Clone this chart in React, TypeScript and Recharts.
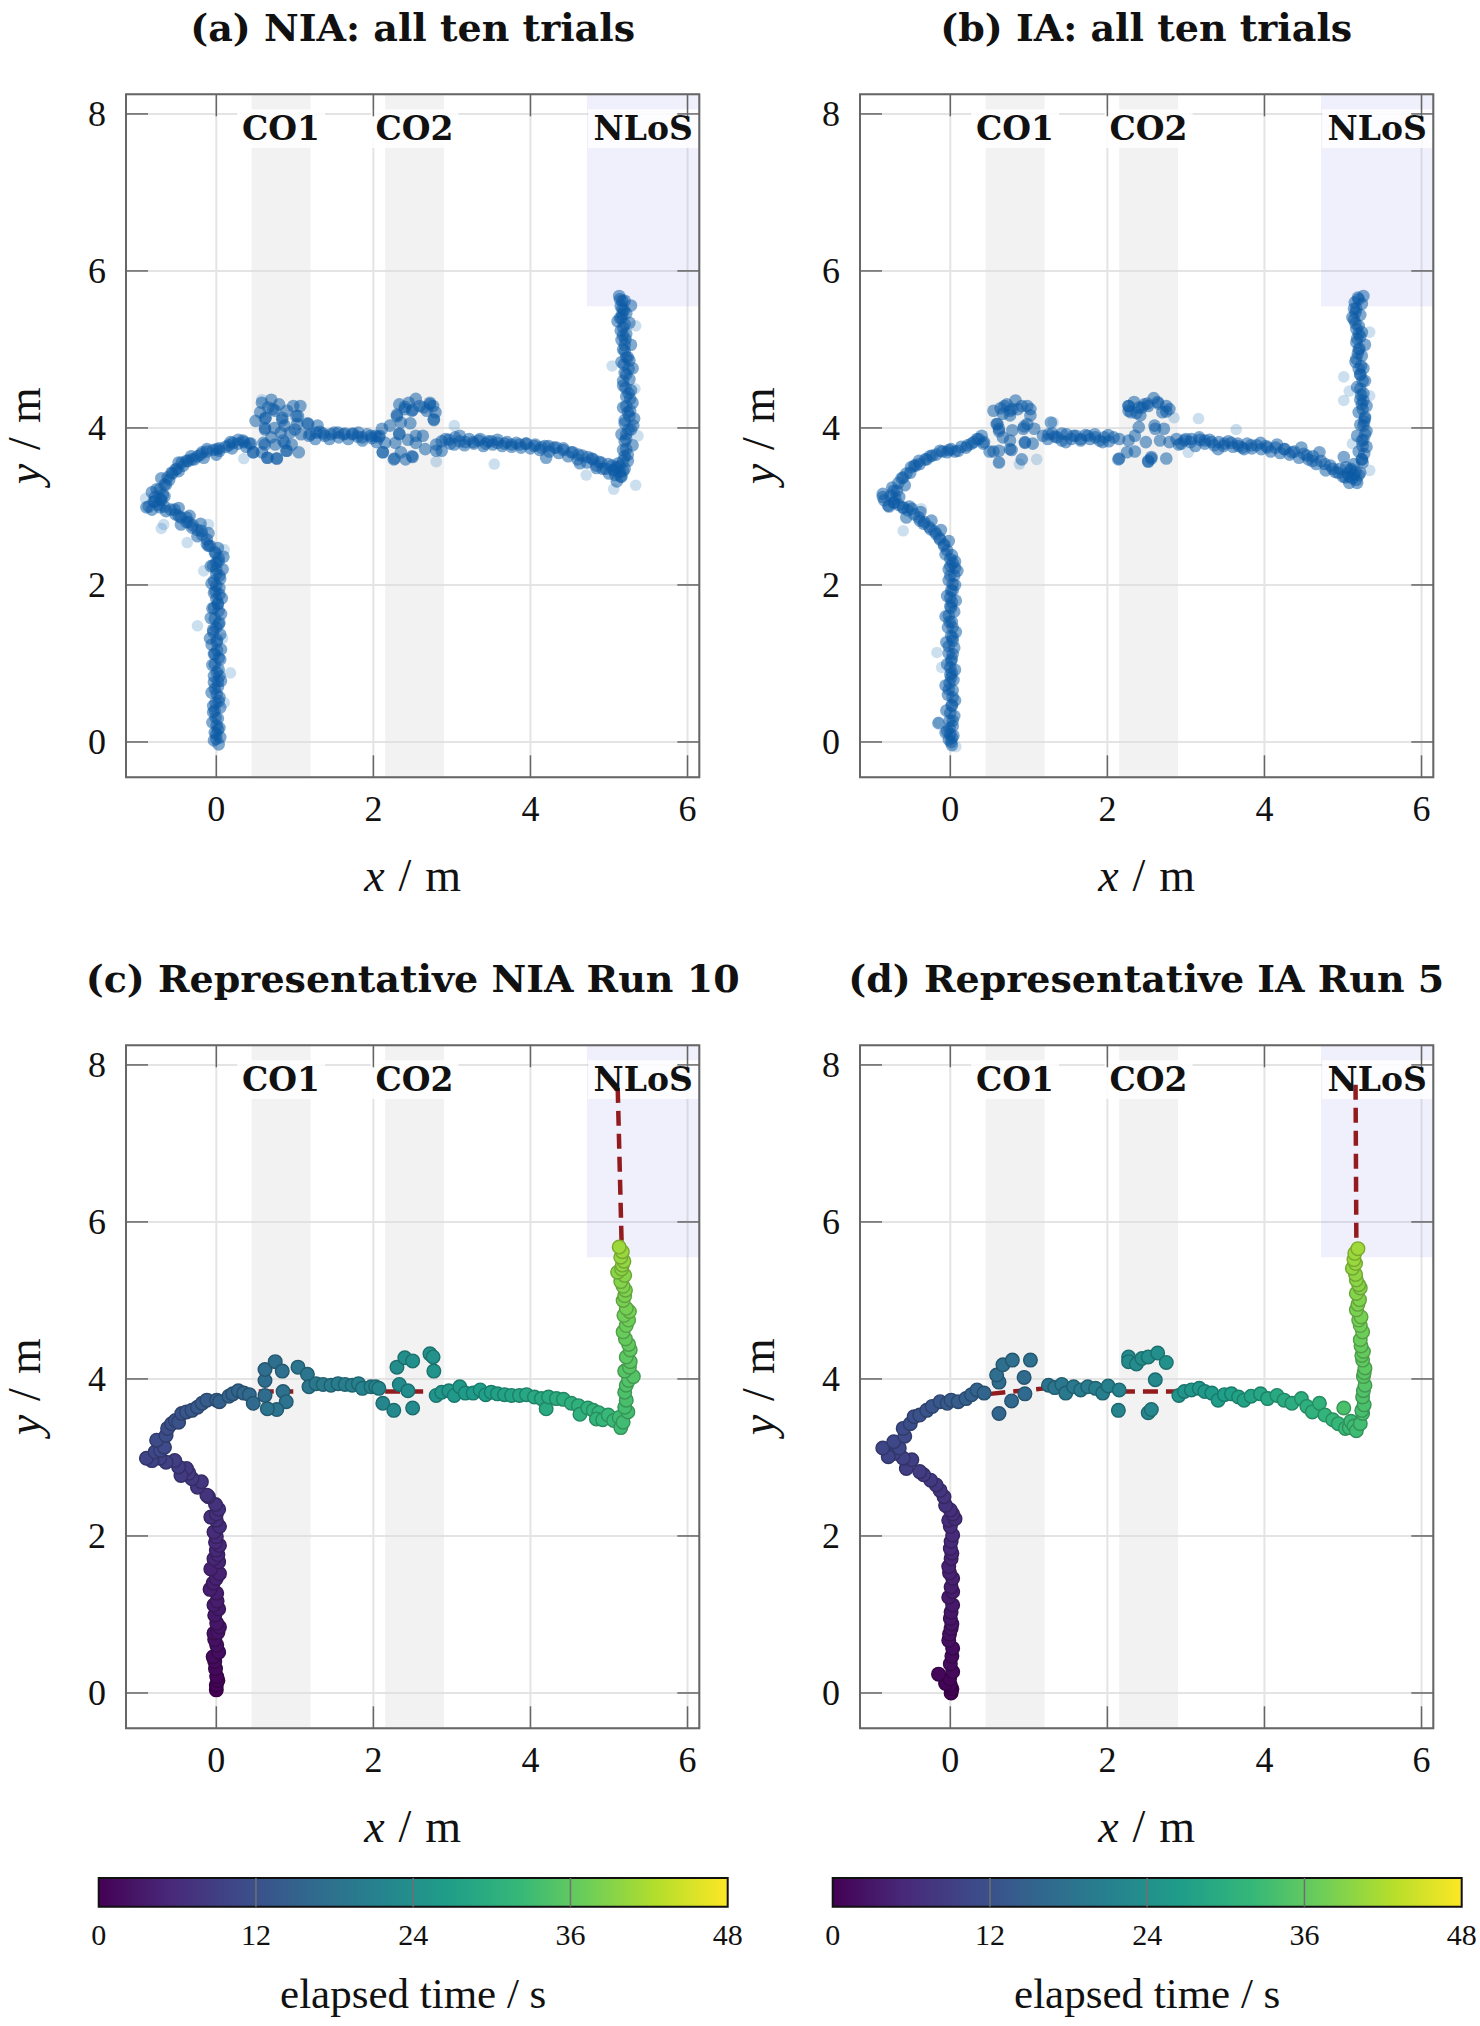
import React from "react";
import {
  ScatterChart,
  Scatter,
  XAxis,
  YAxis,
  CartesianGrid,
  ReferenceArea,
  ReferenceLine,
} from "recharts";

type P2 = [number, number];
type P3 = [number, number, number];

// ---- axes ----
const xTicks = [0, 2, 4, 6];
const yTicks = [0, 2, 4, 6, 8];
const xRange: [number, number] = [-1.15, 6.15];
const yRange: [number, number] = [-0.45, 8.25];
const timeTicks = [0, 12, 24, 36, 48];

// ---- zones (m) ----
const obstacles = [
  { name: "CO1", x1: 0.45, x2: 1.2 },
  { name: "CO2", x1: 2.15, x2: 2.9 },
];
const nlos = { name: "NLoS", x1: 4.72, y1: 5.55 };

// ---- representative runs: [x, y, elapsed s] ----
const run10: P3[] = [
  [0, 0.04, 0], [0, 0.1, 0.3], [0.02, 0.16, 0.5], [0.005, 0.21, 0.7], [-0.01, 0.31, 1.1],
  [-0.02, 0.4, 1.3], [-0.04, 0.46, 1.5], [0.03, 0.52, 1.7], [0.005, 0.61, 2], [-0.02, 0.68, 2.2],
  [-0.03, 0.76, 2.4], [0.02, 0.77, 2.6], [0.04, 0.84, 2.8], [0.005, 0.89, 2.9], [-0.02, 0.99, 3.2],
  [0.03, 1.07, 3.5], [-0.03, 1.12, 3.7], [0.01, 1.17, 3.9], [0.005, 1.27, 4.0], [-0.08, 1.32, 4.1],
  [-0.04, 1.4, 4.3], [0, 1.46, 4.4], [0.04, 1.52, 4.6], [-0.07, 1.58, 4.7], [0.03, 1.67, 5.0],
  [-0.03, 1.71, 5.1], [0.02, 1.76, 5.3], [0, 1.82, 5.4], [0.04, 1.88, 5.6], [-0.01, 1.92, 5.7],
  [0, 1.99, 5.9], [-0.03, 2.05, 6.0], [0.04, 2.12, 6.2], [0, 2.2, 6.4], [-0.07, 2.24, 6.5],
  [0, 2.28, 6.6], [0.03, 2.34, 6.7], [-0.01, 2.4, 6.9],
  [-0.1, 2.5, 7.2], [-0.12, 2.52, 7.3], [-0.24, 2.62, 7.6], [-0.19, 2.69, 7.7], [-0.31, 2.73, 8.0],
  [-0.35, 2.8, 8.2], [-0.38, 2.86, 8.3], [-0.45, 2.77, 8.4], [-0.48, 2.88, 8.6], [-0.53, 2.96, 8.9],
  [-0.64, 2.94, 9.2], [-0.72, 2.99, 9.5], [-0.82, 2.96, 9.8], [-0.89, 2.99, 10.1],
  [-0.78, 3.07, 10.4], [-0.71, 3.09, 10.6], [-0.66, 3.13, 10.8], [-0.76, 3.22, 11.0], [-0.64, 3.28, 11.3],
  [-0.62, 3.37, 11.6], [-0.57, 3.43, 11.9], [-0.52, 3.47, 12.1], [-0.48, 3.45, 12.2], [-0.44, 3.56, 12.5],
  [-0.38, 3.58, 12.8], [-0.31, 3.6, 13.1], [-0.24, 3.64, 13.4], [-0.18, 3.69, 13.7], [-0.12, 3.73, 14.0],
  [0.005, 3.73, 14.4], [0.04, 3.71, 14.6], [0.16, 3.78, 15.0], [0.21, 3.81, 15.2], [0.28, 3.85, 15.5],
  [0.35, 3.82, 15.8], [0.42, 3.8, 16.1], [0.47, 3.69, 16.4],
  [0.62, 3.79, 16.8], [0.62, 3.98, 17.0], [0.62, 4.12, 17.2], [0.75, 4.22, 17.4], [0.84, 4.1, 17.6],
  [0.85, 3.84, 17.8], [0.89, 3.71, 18.0], [0.77, 3.61, 18.2], [0.65, 3.62, 18.4], [1.04, 4.15, 18.6],
  [1.16, 4.06, 18.8], [1.18, 3.9, 19.0],
  [1.27, 3.94, 19.3], [1.36, 3.93, 19.6], [1.46, 3.92, 19.9], [1.55, 3.94, 20.2], [1.64, 3.93, 20.5],
  [1.73, 3.92, 20.8], [1.81, 3.94, 21.1], [1.86, 3.88, 21.3], [1.97, 3.9, 21.6], [2.03, 3.9, 21.8],
  [2.07, 3.88, 22.0],
  [2.12, 3.69, 22.3], [2.26, 3.6, 22.6], [2.5, 3.63, 22.9], [2.33, 3.93, 23.1], [2.44, 3.85, 23.3],
  [2.3, 4.15, 23.5], [2.4, 4.27, 23.7], [2.5, 4.23, 23.9], [2.72, 4.32, 24.2], [2.76, 4.28, 24.4],
  [2.77, 4.1, 24.6],
  [2.8, 3.79, 24.9], [2.87, 3.83, 25.1], [2.96, 3.85, 25.4], [3.03, 3.79, 25.6], [3.1, 3.9, 25.8],
  [3.17, 3.82, 26.0], [3.27, 3.82, 26.3], [3.36, 3.86, 26.6], [3.43, 3.8, 26.8], [3.5, 3.83, 27.0],
  [3.58, 3.81, 27.3], [3.67, 3.8, 27.6], [3.76, 3.79, 27.9], [3.86, 3.79, 28.2], [3.95, 3.8, 28.5],
  [4.05, 3.77, 28.8], [4.14, 3.75, 29.1], [4.2, 3.62, 29.3], [4.23, 3.77, 29.4], [4.33, 3.75, 29.7],
  [4.42, 3.74, 30.0], [4.52, 3.69, 30.3], [4.61, 3.66, 30.6], [4.63, 3.55, 30.7], [4.73, 3.63, 31.0],
  [4.8, 3.6, 31.2], [4.87, 3.57, 31.5], [4.84, 3.49, 31.6], [4.92, 3.48, 31.9], [4.99, 3.54, 32.2],
  [5.06, 3.47, 32.5], [5.13, 3.51, 32.8], [5.15, 3.38, 33.0], [5.18, 3.45, 33.2],
  [5.24, 3.58, 33.5], [5.2, 3.64, 33.6], [5.22, 3.73, 33.9], [5.2, 3.83, 34.2], [5.22, 3.92, 34.5],
  [5.25, 3.98, 34.7], [5.31, 4.03, 34.9], [5.2, 4.1, 35.1], [5.26, 4.15, 35.3], [5.27, 4.22, 35.5],
  [5.22, 4.28, 35.7], [5.27, 4.37, 36.0], [5.25, 4.44, 36.2], [5.21, 4.51, 36.5], [5.18, 4.6, 36.8],
  [5.22, 4.68, 37.0], [5.25, 4.75, 37.3], [5.19, 4.81, 37.5], [5.26, 4.86, 37.7], [5.22, 4.9, 37.8],
  [5.18, 5.0, 38.1], [5.2, 5.06, 38.3], [5.21, 5.13, 38.5], [5.18, 5.18, 38.7], [5.15, 5.24, 38.9],
  [5.2, 5.32, 39.2], [5.11, 5.36, 39.4], [5.16, 5.4, 39.6], [5.17, 5.45, 39.8], [5.19, 5.5, 40.0],
  [5.15, 5.55, 40.2], [5.17, 5.62, 40.5], [5.13, 5.68, 40.9],
];

const run5: P3[] = [
  [0.01, 0.0, 0], [0.02, 0.05, 0.2], [0, 0.1, 0.3], [-0.06, 0.12, 0.5], [-0.01, 0.18, 0.6],
  [-0.15, 0.24, 0.8], [0.03, 0.27, 0.9], [0, 0.37, 1.2], [0.02, 0.47, 1.4], [0.03, 0.57, 1.7],
  [-0.02, 0.67, 2.0], [-0.01, 0.75, 2.2], [0.01, 0.82, 2.4], [0.02, 0.88, 2.6], [0, 0.95, 2.8],
  [0.01, 1.03, 3.0], [0.03, 1.12, 3.3], [-0.02, 1.22, 3.6], [0.03, 1.29, 3.8], [0.01, 1.35, 3.9],
  [0.03, 1.46, 4.2], [-0.01, 1.53, 4.4], [-0.02, 1.61, 4.6], [0.01, 1.71, 4.9], [0.02, 1.78, 5.1],
  [0, 1.84, 5.3], [0.01, 1.93, 5.5], [0.03, 2.01, 5.7], [0, 2.12, 6.0], [-0.02, 2.2, 6.2],
  [0.06, 2.22, 6.3], [0.03, 2.28, 6.5], [0, 2.33, 6.6],
  [-0.06, 2.39, 6.9], [-0.08, 2.5, 7.2], [-0.13, 2.58, 7.5], [-0.18, 2.65, 7.8], [-0.25, 2.71, 8.1],
  [-0.34, 2.78, 8.4], [-0.39, 2.82, 8.6], [-0.56, 2.86, 8.9], [-0.49, 2.97, 9.0], [-0.6, 2.99, 9.3],
  [-0.72, 3.05, 9.7], [-0.79, 3.01, 9.9], [-0.86, 3.12, 10.2],
  [-0.65, 3.12, 10.4], [-0.72, 3.2, 10.5], [-0.58, 3.27, 10.8], [-0.6, 3.37, 11.1], [-0.51, 3.43, 11.5],
  [-0.46, 3.52, 11.8], [-0.39, 3.54, 12.1], [-0.3, 3.6, 12.5], [-0.23, 3.65, 12.8], [-0.13, 3.71, 13.2],
  [-0.04, 3.69, 13.5], [0.01, 3.73, 13.8], [0.1, 3.71, 14.1], [0.2, 3.75, 14.5], [0.27, 3.8, 14.8],
  [0.34, 3.86, 15.1], [0.43, 3.82, 15.4],
  [0.62, 3.56, 15.8], [0.78, 3.72, 16.1], [0.95, 3.81, 16.4], [0.94, 4.02, 16.7], [0.62, 3.96, 17.0],
  [0.59, 4.05, 17.2], [0.67, 4.18, 17.4], [0.79, 4.24, 17.6], [1.02, 4.24, 17.9],
  [1.25, 3.92, 18.4], [1.33, 3.89, 18.7], [1.42, 3.93, 19.0], [1.47, 3.82, 19.2], [1.57, 3.9, 19.5],
  [1.66, 3.86, 19.8], [1.75, 3.9, 20.1], [1.85, 3.88, 20.4], [1.94, 3.82, 20.7], [2.01, 3.91, 21.0],
  [2.15, 3.86, 21.4],
  [2.14, 3.6, 21.7], [2.52, 3.57, 22.0], [2.56, 3.61, 22.2], [2.61, 3.99, 22.5], [2.27, 4.28, 22.8],
  [2.27, 4.22, 23.0], [2.37, 4.19, 23.2], [2.44, 4.26, 23.4], [2.52, 4.28, 23.6], [2.64, 4.33, 23.9],
  [2.75, 4.21, 24.2],
  [2.91, 3.79, 24.6], [2.98, 3.84, 24.9], [3.07, 3.86, 25.2], [3.17, 3.88, 25.5], [3.24, 3.84, 25.8],
  [3.33, 3.82, 26.1], [3.41, 3.73, 26.4], [3.49, 3.8, 26.7], [3.58, 3.81, 27.0], [3.67, 3.77, 27.3],
  [3.74, 3.73, 27.6], [3.83, 3.78, 27.9], [3.95, 3.81, 28.3], [4.04, 3.75, 28.6], [4.16, 3.79, 29.0],
  [4.25, 3.73, 29.3], [4.35, 3.69, 29.7], [4.47, 3.75, 30.1], [4.54, 3.65, 30.4], [4.61, 3.58, 30.7],
  [4.7, 3.69, 31.0], [4.77, 3.54, 31.3], [4.87, 3.48, 31.7], [4.94, 3.43, 32.0], [5.03, 3.37, 32.4],
  [5.08, 3.38, 32.6], [5.1, 3.46, 32.7], [5.14, 3.4, 32.9], [5.17, 3.34, 33.0], [5.22, 3.43, 33.3],
  [5.25, 3.56, 33.6], [5.24, 3.6, 33.8], [5.01, 3.63, 34.0],
  [5.27, 3.67, 34.0], [5.25, 3.77, 34.4], [5.26, 3.85, 34.6], [5.28, 3.92, 34.9], [5.26, 4.03, 35.3],
  [5.27, 4.08, 35.5], [5.28, 4.14, 35.7], [5.25, 4.24, 36.0], [5.24, 4.3, 36.2], [5.26, 4.35, 36.4],
  [5.23, 4.42, 36.6], [5.22, 4.5, 36.9], [5.25, 4.6, 37.2], [5.22, 4.68, 37.5], [5.2, 4.75, 37.7],
  [5.23, 4.79, 37.9], [5.17, 4.88, 38.2], [5.19, 4.95, 38.4], [5.21, 5.01, 38.6], [5.17, 5.09, 38.9],
  [5.22, 5.16, 39.2], [5.2, 5.2, 39.3], [5.17, 5.26, 39.5], [5.16, 5.33, 39.8], [5.12, 5.41, 40.0],
  [5.16, 5.47, 40.3], [5.14, 5.52, 40.5], [5.15, 5.6, 40.7], [5.19, 5.66, 41.0],
];

// gaps in the localisation (drawn dashed): [from, to]
const gapsRun10: [P2, P2][] = [
  [[0.54, 3.84], [0.98, 3.84]],
  [[2.15, 3.84], [2.7, 3.84]],
  [[5.16, 5.76], [5.11, 7.75]],
];
const gapsRun5: [P2, P2][] = [
  [[0.51, 3.81], [1.2, 3.88]],
  [[2.16, 3.84], [2.91, 3.84]],
  [[5.17, 5.8], [5.16, 7.75]],
];

// ---- the other nine trials (a) and (b) ----
const otherTrialsNIA: P2[] = [
  [0.03, -0.03], [-0.03, 0.02], [0.05, 0.06], [-0.02, 0.12], [0.04, 0.18], [-0.05, 0.25], [0.02, 0.3],
  [-0.04, 0.38], [0.05, 0.44], [-0.01, 0.5], [0.04, 0.57], [-0.06, 0.63], [0.02, 0.7], [0.06, 0.78],
  [-0.03, 0.84], [0.03, 0.92], [-0.05, 0.98], [0.05, 1.05], [-0.02, 1.12], [0.06, 1.18], [-0.06, 1.24],
  [0.01, 1.3], [0.05, 1.37], [-0.04, 1.43], [0.03, 1.5], [-0.02, 1.57], [0.06, 1.63], [-0.05, 1.7],
  [0.02, 1.76], [0.07, 1.83], [-0.03, 1.9], [0.04, 1.96], [-0.06, 2.02], [0.05, 2.08], [0.0, 2.14],
  [0.08, 2.2], [-0.04, 2.25], [0.03, 2.3], [0.09, 2.36],
  [-0.02, 2.42], [-0.08, 2.5], [0.02, 2.47], [-0.12, 2.58], [-0.18, 2.64], [-0.1, 2.66], [-0.24, 2.7],
  [-0.3, 2.76], [-0.2, 2.78], [-0.38, 2.8], [-0.45, 2.86], [-0.34, 2.88], [-0.52, 2.9], [-0.58, 2.96],
  [-0.48, 2.98], [-0.66, 3.0], [-0.74, 3.02], [-0.8, 3.06], [-0.7, 3.08], [-0.86, 3.0], [-0.78, 3.12],
  [-0.68, 3.15], [-0.82, 3.18], [-0.72, 3.22], [-0.66, 3.28], [-0.6, 3.34], [-0.7, 3.36], [-0.56, 3.42],
  [-0.5, 3.48], [-0.42, 3.52], [-0.48, 3.56], [-0.36, 3.58], [-0.28, 3.6], [-0.32, 3.64], [-0.2, 3.66],
  [-0.12, 3.7], [-0.16, 3.62], [-0.04, 3.72], [0.04, 3.74], [0.0, 3.66], [0.12, 3.76], [0.2, 3.74],
  [0.18, 3.82], [0.28, 3.8], [0.34, 3.84], [0.38, 3.76], [0.44, 3.8],
  [0.58, 4.32], [0.7, 4.36], [0.8, 4.3], [0.98, 4.28], [1.07, 4.28], [0.56, 4.2], [0.63, 4.13],
  [0.84, 4.13], [1.02, 4.15], [0.5, 4.09], [0.62, 4.0], [0.74, 4.0], [0.87, 4.03], [1.03, 4.05],
  [1.17, 4.05], [1.29, 4.03], [0.7, 3.88], [0.82, 3.94], [0.94, 3.94], [1.08, 3.92], [0.6, 3.81],
  [0.75, 3.79], [0.87, 3.81], [0.96, 3.79], [0.58, 3.69], [0.65, 3.62], [0.77, 3.61], [0.9, 3.71],
  [1.05, 3.69], [0.47, 3.69], [0.72, 4.24], [0.9, 4.22], [0.66, 4.26], [1.0, 3.98],
  [1.2, 3.92], [1.26, 3.86], [1.32, 3.95], [1.38, 3.9], [1.44, 3.86], [1.5, 3.94], [1.56, 3.88],
  [1.62, 3.92], [1.68, 3.86], [1.74, 3.93], [1.8, 3.89], [1.86, 3.84], [1.92, 3.92], [1.98, 3.87],
  [2.04, 3.82], [2.08, 3.9],
  [2.33, 4.3], [2.4, 4.24], [2.54, 4.37], [2.59, 4.28], [2.72, 4.3], [2.79, 4.2], [2.3, 4.17],
  [2.49, 4.22], [2.68, 4.22], [2.35, 4.07], [2.47, 4.06], [2.77, 4.11], [2.21, 4.03], [2.11, 3.99],
  [2.33, 3.92], [2.54, 3.9], [2.63, 3.9], [2.28, 3.81], [2.54, 3.81], [2.66, 3.73], [2.35, 3.69],
  [2.49, 3.64], [2.27, 3.61], [2.41, 3.6], [2.8, 3.71], [2.87, 3.71], [2.15, 3.81], [2.12, 3.69],
  [2.45, 4.32], [2.64, 4.26],
  [2.92, 3.86], [2.98, 3.8], [3.04, 3.88], [3.1, 3.83], [3.16, 3.78], [3.22, 3.86], [3.28, 3.8],
  [3.34, 3.84], [3.4, 3.77], [3.46, 3.83], [3.52, 3.79], [3.58, 3.85], [3.64, 3.77], [3.7, 3.82],
  [3.76, 3.76], [3.82, 3.81], [3.88, 3.75], [3.94, 3.8], [4.0, 3.74], [4.06, 3.79], [4.12, 3.72],
  [4.18, 3.77], [4.24, 3.7], [4.3, 3.75], [4.36, 3.68], [4.42, 3.72], [4.48, 3.64], [4.54, 3.69],
  [4.6, 3.6], [4.66, 3.65], [4.72, 3.56], [4.78, 3.61], [4.84, 3.52], [4.9, 3.56], [4.96, 3.48],
  [5.0, 3.42],
  [5.06, 3.46], [5.1, 3.5], [5.08, 3.4], [5.14, 3.44], [5.12, 3.55], [5.04, 3.52], [5.16, 3.38],
  [5.2, 3.48], [5.1, 3.32], [5.18, 3.58],
  [5.24, 3.66], [5.18, 3.72], [5.3, 3.78], [5.22, 3.86], [5.16, 3.92], [5.28, 3.98], [5.2, 4.06],
  [5.32, 4.12], [5.24, 4.2], [5.18, 4.26], [5.3, 4.32], [5.22, 4.4], [5.28, 4.48], [5.18, 4.54],
  [5.26, 4.62], [5.2, 4.7], [5.3, 4.76], [5.16, 4.84], [5.24, 4.9], [5.2, 4.98], [5.28, 5.06],
  [5.16, 5.12], [5.22, 5.2], [5.18, 5.28], [5.26, 5.34], [5.14, 5.4], [5.22, 5.46], [5.17, 5.52],
  [5.28, 5.56], [5.2, 5.62], [5.14, 5.64],
];

const strayNIA: P2[] = [
  [-0.24, 1.48], [0.18, 0.88], [0.1, 2.45], [-0.16, 2.18], [-0.67, 2.77], [-0.7, 2.72], [-0.37, 2.54],
  [-0.1, 2.77], [0.08, 1.32], [0.1, 0.5], [3.54, 3.54], [4.71, 3.4], [5.06, 3.22], [5.34, 3.27],
  [5.04, 4.79], [5.37, 3.9], [0.35, 3.61], [0.58, 4.36], [2.8, 3.57], [3.03, 4.03], [-0.9, 3.1],
  [5.34, 5.3], [5.33, 4.5],
];

const otherTrialsIA: P2[] = [
  [0.02, -0.04], [-0.02, 0.03], [0.04, 0.08], [-0.04, 0.14], [0.03, 0.2], [-0.01, 0.27], [0.05, 0.33],
  [-0.05, 0.4], [0.02, 0.46], [0.06, 0.53], [-0.03, 0.6], [0.03, 0.66], [-0.06, 0.72], [0.04, 0.79],
  [0.0, 0.86], [0.06, 0.92], [-0.04, 0.99], [0.02, 1.06], [-0.02, 1.13], [0.05, 1.2], [-0.05, 1.27],
  [0.03, 1.33], [0.07, 1.4], [-0.03, 1.46], [0.02, 1.53], [-0.06, 1.6], [0.05, 1.66], [0.0, 1.73],
  [0.07, 1.8], [-0.04, 1.86], [0.03, 1.93], [0.06, 2.0], [-0.02, 2.06], [0.05, 2.12], [0.09, 2.18],
  [0.0, 2.24], [0.06, 2.3], [0.02, 2.38],
  [-0.04, 2.44], [-0.08, 2.52], [-0.02, 2.56], [-0.14, 2.6], [-0.2, 2.68], [-0.12, 2.7], [-0.27, 2.74],
  [-0.33, 2.8], [-0.24, 2.82], [-0.4, 2.86], [-0.46, 2.9], [-0.38, 2.93], [-0.54, 2.95], [-0.6, 2.98],
  [-0.52, 3.0], [-0.66, 3.02], [-0.72, 3.05], [-0.78, 3.0], [-0.7, 3.1], [-0.84, 3.08], [-0.76, 3.14],
  [-0.86, 3.16], [-0.68, 3.2], [-0.74, 3.24], [-0.66, 3.3], [-0.62, 3.36], [-0.56, 3.42], [-0.5, 3.5],
  [-0.44, 3.52], [-0.4, 3.58], [-0.32, 3.6], [-0.26, 3.64], [-0.18, 3.66], [-0.1, 3.7], [-0.02, 3.72],
  [0.06, 3.7], [0.14, 3.76], [0.22, 3.78], [0.3, 3.82], [0.36, 3.86], [0.42, 3.8], [0.4, 3.9],
  [0.55, 4.22], [0.69, 4.28], [0.76, 4.22], [0.83, 4.35], [0.91, 4.28], [0.98, 4.28], [1.02, 4.16],
  [0.76, 4.16], [0.6, 4.05], [0.62, 3.99], [0.79, 3.97], [0.93, 3.99], [0.98, 4.05], [1.07, 3.99],
  [1.28, 4.07], [0.67, 3.88], [0.76, 3.84], [0.95, 3.82], [1.05, 3.8], [0.55, 3.7], [0.62, 3.71],
  [0.76, 3.73], [0.91, 3.6], [0.5, 3.7], [0.72, 4.3], [0.86, 4.24], [0.64, 4.25],
  [1.18, 3.9], [1.24, 3.86], [1.3, 3.93], [1.36, 3.88], [1.42, 3.84], [1.48, 3.92], [1.54, 3.86],
  [1.6, 3.9], [1.66, 3.84], [1.72, 3.91], [1.78, 3.86], [1.84, 3.92], [1.9, 3.84], [1.96, 3.88],
  [2.02, 3.83], [2.08, 3.88],
  [2.27, 4.28], [2.34, 4.33], [2.4, 4.26], [2.51, 4.31], [2.59, 4.38], [2.65, 4.31], [2.75, 4.28],
  [2.79, 4.24], [2.3, 4.2], [2.42, 4.16], [2.4, 4.01], [2.6, 4.03], [2.72, 3.99], [2.35, 3.9],
  [2.49, 3.82], [2.67, 3.84], [2.79, 3.82], [2.27, 3.84], [2.25, 3.69], [2.35, 3.7], [2.15, 3.61],
  [2.52, 3.58], [2.75, 3.61], [2.56, 3.63], [2.47, 4.3], [2.7, 4.2],
  [2.88, 3.86], [2.94, 3.8], [3.0, 3.86], [3.06, 3.82], [3.12, 3.77], [3.18, 3.85], [3.24, 3.8],
  [3.3, 3.85], [3.36, 3.78], [3.42, 3.82], [3.48, 3.77], [3.54, 3.83], [3.6, 3.76], [3.66, 3.8],
  [3.72, 3.75], [3.78, 3.8], [3.84, 3.74], [3.9, 3.78], [3.96, 3.73], [4.02, 3.77], [4.08, 3.7],
  [4.14, 3.75], [4.2, 3.68], [4.26, 3.73], [4.32, 3.66], [4.38, 3.7], [4.44, 3.62], [4.5, 3.67],
  [4.56, 3.6], [4.62, 3.64], [4.66, 3.54], [4.72, 3.58], [4.78, 3.46], [4.84, 3.52], [4.9, 3.44],
  [4.96, 3.48], [5.0, 3.38],
  [5.06, 3.42], [5.1, 3.48], [5.12, 3.36], [5.16, 3.44], [5.08, 3.3], [5.14, 3.54], [5.2, 3.4],
  [5.04, 3.5], [5.18, 3.3],
  [5.24, 3.6], [5.2, 3.7], [5.3, 3.76], [5.24, 3.84], [5.18, 3.9], [5.3, 3.96], [5.22, 4.04],
  [5.28, 4.12], [5.2, 4.2], [5.3, 4.28], [5.22, 4.36], [5.26, 4.44], [5.18, 4.52], [5.28, 4.6],
  [5.22, 4.68], [5.26, 4.76], [5.16, 4.84], [5.24, 4.92], [5.2, 5.0], [5.28, 5.06], [5.18, 5.14],
  [5.24, 5.22], [5.2, 5.3], [5.14, 5.38], [5.22, 5.44], [5.17, 5.52], [5.24, 5.58], [5.2, 5.64],
  [5.26, 5.68],
];

const strayIA: P2[] = [
  [-0.17, 1.14], [-0.11, 0.95], [-0.15, 0.25], [-0.6, 2.69], [-0.37, 2.97], [3.16, 4.12], [3.64, 3.98],
  [5.01, 4.65], [5.01, 4.35], [5.08, 4.47], [5.12, 3.8], [5.34, 5.22], [5.34, 4.41], [5.34, 3.46],
  [3.03, 3.69], [1.31, 4.07], [2.85, 4.13], [0.62, 3.56], [0.88, 3.54], [0.07, -0.06], [1.1, 3.6],
];

// ---- look ----
const SERIF = "'Liberation Serif', 'DejaVu Serif', serif";
const BOLD_SERIF = "'DejaVu Serif', serif";
const INK = "#111";
const FRAME = "#666";
const VIRIDIS = ["#440154", "#482878", "#3e4989", "#31688e", "#26828e", "#1f9e89", "#35b779", "#6ece58", "#b5de2b", "#fde725"];
const T_MAX = 48;

// layout of one panel (pixels)
const PANEL_W = 733;
const PANEL_H = 930;
const PLOT = { left: 126, top: 94.3, right: 699.3, bottom: 777.3 };
const Y_AXIS_W = 110;
const X_AXIS_H = 130;
const PX_PER_M = (PLOT.right - PLOT.left) / (xRange[1] - xRange[0]);
const TICK_LEN = 22 / PX_PER_M;
const DX = 733.6;
const DY = 950.7;

function hexToRgb(h: string) {
  const n = parseInt(h.slice(1), 16);
  return [(n >> 16) & 255, (n >> 8) & 255, n & 255];
}

function viridis(f: number, shade = 1) {
  const v = Math.max(0, Math.min(1, f)) * (VIRIDIS.length - 1);
  const i = Math.min(VIRIDIS.length - 2, Math.floor(v));
  const k = v - i;
  const a = hexToRgb(VIRIDIS[i]);
  const b = hexToRgb(VIRIDIS[i + 1]);
  const c = a.map((av, j) => Math.round((av + (b[j] - av) * k) * shade));
  return `rgb(${c[0]},${c[1]},${c[2]})`;
}

function XTick(props: any) {
  const { x, y, payload } = props;
  return (
    <text x={x} y={y + 32} textAnchor="middle" dominantBaseline="central" fontFamily={SERIF} fontSize={36} fill={INK}>
      {payload.value}
    </text>
  );
}

function YTick(props: any) {
  const { x, y, payload } = props;
  return (
    <text x={x - 20} y={y} textAnchor="end" dominantBaseline="central" fontFamily={SERIF} fontSize={36} fill={INK}>
      {payload.value}
    </text>
  );
}

function XTitle(props: any) {
  const { viewBox } = props;
  return (
    <text x={viewBox.x + viewBox.width / 2} y={viewBox.y + 114} textAnchor="middle" fontFamily={SERIF} fontSize={46} fill={INK}>
      <tspan fontStyle="italic">x</tspan>
      <tspan dx={14}>/</tspan>
      <tspan dx={14}>m</tspan>
    </text>
  );
}

function YTitle(props: any) {
  const { viewBox } = props;
  const x = viewBox.x + 24;
  const y = viewBox.y + viewBox.height / 2;
  return (
    <text x={x} y={y} transform={`rotate(-90 ${x} ${y})`} textAnchor="middle" fontFamily={SERIF} fontSize={46} fill={INK}>
      <tspan fontStyle="italic">y</tspan>
      <tspan dx={14}>/</tspan>
      <tspan dx={14}>m</tspan>
    </text>
  );
}

const CloudDot = (p: any) => <circle cx={p.cx} cy={p.cy} r={6.3} fill="#0c5aa4" fillOpacity={0.52} />;
const StrayDot = (p: any) => <circle cx={p.cx} cy={p.cy} r={5.8} fill="#2a78bd" fillOpacity={0.24} />;
const TimeDot = (p: any) => {
  const f = p.payload.t / T_MAX;
  return <circle cx={p.cx} cy={p.cy} r={6.8} fill={viridis(f)} stroke={viridis(f, 0.78)} strokeWidth={1.4} />;
};

interface PanelProps {
  title: string;
  left: number;
  top: number;
  cloud?: P2[];
  stray?: P2[];
  run?: P3[];
  gaps?: [P2, P2][];
}

function Panel({ title, left, top, cloud, stray, run, gaps }: PanelProps) {
  const margin = {
    top: PLOT.top,
    left: PLOT.left - Y_AXIS_W,
    right: PANEL_W - PLOT.right,
    bottom: PANEL_H - PLOT.bottom - X_AXIS_H,
  };
  const labelY = 7.8;
  const boxes = [
    ...obstacles.map((o) => ({ name: o.name, cx: (o.x1 + o.x2) / 2 })),
    { name: nlos.name, cx: (nlos.x1 + xRange[1]) / 2 },
  ];
  const tickStyle = { stroke: FRAME, strokeWidth: 1.5 };
  // inward tick marks on all four sides
  const tickSegs: { x: number; y: number }[][] = [
    ...xTicks.map((v) => [{ x: v, y: yRange[0] }, { x: v, y: yRange[0] + TICK_LEN }]),
    ...xTicks.map((v) => [{ x: v, y: yRange[1] }, { x: v, y: yRange[1] - TICK_LEN }]),
    ...yTicks.map((v) => [{ x: xRange[0], y: v }, { x: xRange[0] + TICK_LEN, y: v }]),
    ...yTicks.map((v) => [{ x: xRange[1], y: v }, { x: xRange[1] - TICK_LEN, y: v }]),
  ];
  const plotCenter = (PLOT.left + PLOT.right) / 2;
  return (
    <div style={{ position: "absolute", left, top, width: PANEL_W, height: PANEL_H }}>
      <div
        style={{
          position: "absolute",
          left: plotCenter - 400,
          width: 800,
          top: 9,
          textAlign: "center",
          fontFamily: BOLD_SERIF,
          fontWeight: 700,
          fontSize: 38,
          lineHeight: "38px",
          color: INK,
          whiteSpace: "nowrap",
        }}
      >
        {title}
      </div>
      <ScatterChart width={PANEL_W} height={PANEL_H} margin={margin}>
        <CartesianGrid stroke="#e4e4e4" strokeWidth={2} />
        {obstacles.map((o) => (
          <ReferenceArea key={o.name} x1={o.x1} x2={o.x2} y1={yRange[0]} y2={yRange[1]} fill="#dcdcdc" fillOpacity={0.38} stroke="none" ifOverflow="visible" />
        ))}
        <ReferenceArea x1={nlos.x1} x2={xRange[1]} y1={nlos.y1} y2={yRange[1]} fill="#9b9bea" fillOpacity={0.15} stroke="none" ifOverflow="visible" />
        {boxes.map((b) => {
          const half = (22 * (b.name.length + 1)) / 2 / PX_PER_M;
          return (
            <ReferenceArea
              key={b.name}
              x1={b.cx - half}
              x2={Math.min(b.cx + half, xRange[1])}
              y1={labelY - 0.235}
              y2={labelY + 0.26}
              fill="#ffffff"
              fillOpacity={0.85}
              stroke="none"
              ifOverflow="visible"
              label={{ value: b.name, position: "center", fontFamily: BOLD_SERIF, fontWeight: 700, fontSize: 33, fill: INK }}
            />
          );
        })}
        <XAxis
          type="number"
          dataKey="x"
          domain={xRange}
          ticks={xTicks}
          interval={0}
          allowDataOverflow
          height={X_AXIS_H}
          tickLine={false}
          axisLine={false}
          tickSize={0}
          tickMargin={0}
          tick={<XTick />}
          label={<XTitle />}
        />
        <YAxis
          type="number"
          dataKey="y"
          domain={yRange}
          ticks={yTicks}
          interval={0}
          allowDataOverflow
          width={Y_AXIS_W}
          tickLine={false}
          axisLine={false}
          tickSize={0}
          tickMargin={0}
          tick={<YTick />}
          label={<YTitle />}
        />
        {tickSegs.map((seg, i) => (
          <ReferenceLine key={`t${i}`} segment={seg} {...tickStyle} ifOverflow="visible" />
        ))}
        <ReferenceArea
          x1={xRange[0]}
          x2={xRange[1]}
          y1={yRange[0]}
          y2={yRange[1]}
          fill="none"
          fillOpacity={0}
          stroke={FRAME}
          strokeWidth={2}
          ifOverflow="visible"
        />
        {(gaps || []).map(([a, b], i) => (
          <ReferenceLine
            key={`g${i}`}
            segment={[{ x: a[0], y: a[1] }, { x: b[0], y: b[1] }]}
            stroke="#921b1d"
            strokeWidth={4.5}
            strokeDasharray="15 8"
            ifOverflow="visible"
          />
        ))}
        {stray && <Scatter data={stray.map(([x, y]) => ({ x, y }))} shape={StrayDot} isAnimationActive={false} />}
        {cloud && <Scatter data={cloud.map(([x, y]) => ({ x, y }))} shape={CloudDot} isAnimationActive={false} />}
        {run && <Scatter data={run.map(([x, y, t]) => ({ x, y, t }))} shape={TimeDot} isAnimationActive={false} />}
      </ScatterChart>
    </div>
  );
}

function CbTick(props: any) {
  const { x, y, payload } = props;
  return (
    <text x={x} y={y + 28} textAnchor="middle" dominantBaseline="central" fontFamily={SERIF} fontSize={30} fill={INK}>
      {payload.value}
    </text>
  );
}

function CbTitle(props: any) {
  const { viewBox } = props;
  return (
    <text x={viewBox.x + viewBox.width / 2} y={viewBox.y + 101.6} textAnchor="middle" fontFamily={SERIF} fontSize={43} fill={INK}>
      elapsed time / s
    </text>
  );
}

const NoDot = () => <g />;

function Colorbar({ left, id }: { left: number; id: string }) {
  const barTop = 28;
  const barH = 28.7;
  const h = 180;
  const w = 745;
  const ends = [
    { t: timeTicks[0], v: 0 },
    { t: timeTicks[timeTicks.length - 1], v: 1 },
  ];
  return (
    <div style={{ position: "absolute", left, top: 1878 - barTop }}>
      <ScatterChart width={w} height={h} margin={{ top: barTop, right: w - 727.7, bottom: 0, left: 98.7 }}>
        <defs>
          <linearGradient id={id} x1="0" y1="0" x2="1" y2="0">
            {VIRIDIS.map((c, i) => (
              <stop key={i} offset={i / (VIRIDIS.length - 1)} stopColor={c} />
            ))}
          </linearGradient>
        </defs>
        <XAxis
          type="number"
          dataKey="t"
          domain={[0, T_MAX]}
          ticks={timeTicks}
          interval={0}
          allowDataOverflow
          height={h - barTop - barH}
          tickLine={false}
          axisLine={false}
          tickSize={0}
          tickMargin={0}
          tick={<CbTick />}
          label={<CbTitle />}
        />
        <YAxis type="number" dataKey="v" domain={[0, 1]} allowDataOverflow hide />
        <ReferenceArea x1={0} x2={T_MAX} y1={0} y2={1} fill={`url(#${id})`} fillOpacity={1} stroke="none" ifOverflow="visible" />
        {timeTicks.slice(1, -1).map((v) => (
          <ReferenceLine key={v} x={v} stroke="#6f6f6f" strokeWidth={1.5} ifOverflow="visible" />
        ))}
        <ReferenceArea x1={0} x2={T_MAX} y1={0} y2={1} fill="none" fillOpacity={0} stroke="#111" strokeWidth={2} ifOverflow="visible" />
        <Scatter data={ends} shape={NoDot} isAnimationActive={false} />
      </ScatterChart>
    </div>
  );
}

export default function App() {
  const cloudNIA: P2[] = [...run10.map(([x, y]) => [x, y] as P2), ...otherTrialsNIA];
  const cloudIA: P2[] = [...run5.map(([x, y]) => [x, y] as P2), ...otherTrialsIA];
  return (
    <div style={{ position: "absolute", left: 0, top: 0, width: 1480, height: 2026, background: "#fff", overflow: "hidden" }}>
      <Panel title="(a) NIA: all ten trials" left={0} top={0} cloud={cloudNIA} stray={strayNIA} />
      <Panel title="(b) IA: all ten trials" left={DX} top={0} cloud={cloudIA} stray={strayIA} />
      <Panel title="(c) Representative NIA Run 10" left={0} top={DY} run={run10} gaps={gapsRun10} />
      <Panel title="(d) Representative IA Run 5" left={DX} top={DY} run={run5} gaps={gapsRun5} />
      <Colorbar left={0} id="viridis-c" />
      <Colorbar left={DX} id="viridis-d" />
    </div>
  );
}
